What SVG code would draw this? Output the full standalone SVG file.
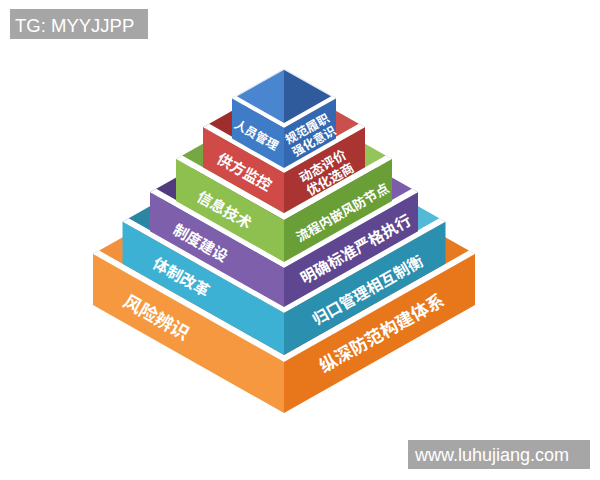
<svg xmlns="http://www.w3.org/2000/svg" width="600" height="480" viewBox="0 0 600 480">
<style>
.lbl{font-family:"Noto Sans CJK SC","Noto Sans",sans-serif;font-weight:700;fill:#ffffff;text-anchor:middle;dominant-baseline:central}
.band{fill:#ffffff}
.wm{font-family:"Liberation Sans",Arial,sans-serif;fill:#ffffff}
</style>
<rect width="600" height="480" fill="#ffffff"/>

<g id="layer-orange">
  <polygon points="93,254.1 284,362 284,146.2" fill="#f2913d"/>
  <polygon points="284,362 475,254.1 284,146.2" fill="#e67a20"/>
  <polygon class="band" points="93,254.1 284,362 475,254.1 468.8,250.6 284,355 99.2,250.6"/>
  <polygon points="93,254.1 284,362 284,413 93,305.1" fill="#f5983f"/>
  <polygon points="284,362 475,254.1 475,305.1 284,413" fill="#e8761b"/>
  <text class="lbl" font-size="18" transform="translate(157,316) rotate(29.47)">风险辨识</text>
  <text class="lbl" font-size="17.5" transform="translate(381,332) rotate(-29.47)">纵深防范构建体系</text>
</g>

<g id="layer-teal">
  <polygon points="122.5,221.8 284,313 284,130.5" fill="#2a86a3"/>
  <polygon points="284,313 445.5,221.8 284,130.5" fill="#52b9d6"/>
  <polygon class="band" points="122.5,221.8 284,313 445.5,221.8 439.3,218.3 284,306 128.7,218.3"/>
  <polygon points="122.5,221.8 284,313 284,355 122.5,263.8" fill="#3db1d3"/>
  <polygon points="284,313 445.5,221.8 445.5,263.8 284,355" fill="#2b90b0"/>
  <text class="lbl" font-size="15.5" transform="translate(182,276) rotate(29.47)">体制改革</text>
  <text class="lbl" font-size="15.5" transform="translate(367,289) rotate(-29.47)">归口管理相互制衡</text>
</g>

<g id="layer-purple">
  <polygon points="150,192.3 284,268 284,116.6" fill="#4f3b7d"/>
  <polygon points="284,268 418,192.3 284,116.6" fill="#7b5dab"/>
  <polygon class="band" points="150,192.3 284,268 418,192.3 411.8,188.8 284,261 156.2,188.8"/>
  <polygon points="150,192.3 284,268 284,307 150,231.3" fill="#7d5fac"/>
  <polygon points="284,268 418,192.3 418,231.3 284,307" fill="#5f4690"/>
  <text class="lbl" font-size="15" transform="translate(201,242) rotate(29.47)">制度建设</text>
  <text class="lbl" font-size="15.5" transform="translate(355,248) rotate(-29.47)">明确标准严格执行</text>
</g>

<g id="layer-green">
  <polygon points="176,159 284,220 284,98" fill="#77a742"/>
  <polygon points="284,220 392,159 284,98" fill="#93c55a"/>
  <polygon class="band" points="176,159 284,220 392,159 385.8,155.5 284,213 182.2,155.5"/>
  <polygon points="176,159 284,220 284,262 176,201" fill="#8dc04f"/>
  <polygon points="284,220 392,159 392,201 284,262" fill="#6a9f38"/>
  <text class="lbl" font-size="15" transform="translate(225,209) rotate(29.47)">信息技术</text>
  <text class="lbl" font-size="13" transform="translate(342,212) rotate(-29.47)">流程内嵌风防节点</text>
</g>

<g id="layer-red">
  <polygon points="203,127.2 284,173 284,81.5" fill="#9e2e2b"/>
  <polygon points="284,173 365,127.2 284,81.5" fill="#c9504c"/>
  <polygon class="band" points="203,127.2 284,173 365,127.2 358.8,123.7 284,166 209.2,123.7"/>
  <polygon points="203,127.2 284,173 284,213 203,167.2" fill="#d04a47"/>
  <polygon points="284,173 365,127.2 365,167.2 284,213" fill="#a93431"/>
  <text class="lbl" font-size="15" transform="translate(245,171) rotate(29.47)">供方监控</text>
  <g transform="translate(326,172) rotate(-29.47)">
    <text class="lbl" font-size="13" x="0" y="-7.5">动态评价</text>
    <text class="lbl" font-size="13" x="0" y="7.5">优化选商</text>
  </g>
</g>

<g id="layer-blue">
  <polygon points="232,98.6 284,128 284,69.2" fill="#4a86cf"/>
  <polygon points="284,128 336,98.6 284,69.2" fill="#2f5a9c"/>
  <polyline points="232,98.6 284,69.2 336,98.6" fill="none" stroke="#dfe8f5" stroke-width="1.2"/>
  <polygon class="band" points="232,98.6 284,128 336,98.6 331.6,96.1 284,123 236.4,96.1"/>
  <polygon points="232,98.6 284,128 284,168 232,138.6" fill="#3f7cc8"/>
  <polygon points="284,128 336,98.6 336,138.6 284,168" fill="#3468b0"/>
  <text class="lbl" font-size="12" transform="translate(257,134) rotate(29.47)">人员管理</text>
  <g transform="translate(310,134) rotate(-29.47)">
    <text class="lbl" font-size="12" x="0" y="-7">规范履职</text>
    <text class="lbl" font-size="12" x="0" y="7">强化意识</text>
  </g>
</g>

<g id="watermark-tg">
  <rect x="10" y="9" width="138" height="30" fill="#a6a6a6"/>
  <text class="wm" x="15" y="31.5" font-size="18.5">TG: MYYJJPP</text>
</g>
<g id="watermark-url">
  <rect x="408" y="440" width="182" height="29" fill="#a6a6a6"/>
  <text class="wm" x="415" y="460.5" font-size="18">www.luhujiang.com</text>
</g>
</svg>
